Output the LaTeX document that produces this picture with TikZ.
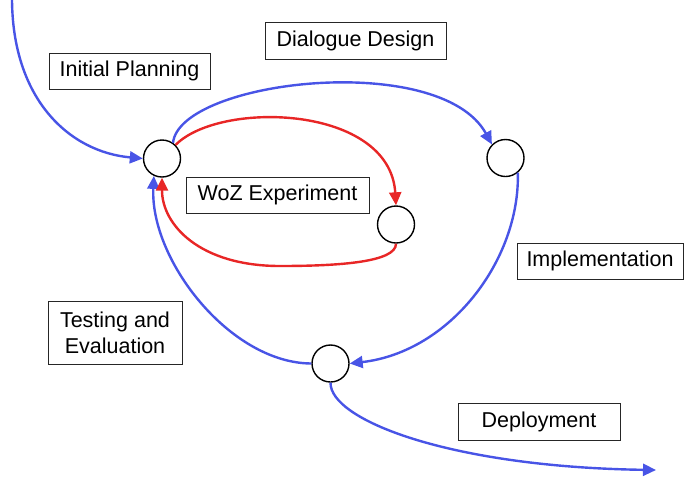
\documentclass[tikz,border=0pt]{standalone}
\usepackage{fontspec}
\setmainfont{Liberation Sans}
\usetikzlibrary{arrows.meta}
\definecolor{flowblue}{RGB}{72,84,230}
\definecolor{flowred}{RGB}{232,38,38}
\begin{document}
\begin{tikzpicture}[x=1pt,y=-1pt,
  stage/.style={circle,draw=black,line width=1.4pt,fill=white,inner sep=0pt,minimum size=37pt},
  phase/.style={draw=black!85,line width=1pt,inner sep=0pt,align=center,
    font=\fontsize{21.5}{26}\selectfont},
  tip/.style={-{Triangle[length=13pt,width=12pt]}},
  blueflow/.style={draw=flowblue,line width=2.4pt,tip,flowblue},
  redflow/.style={draw=flowred,line width=2.4pt,tip,flowred}]
\useasboundingbox (0,0) rectangle (684,477);

% phase labels
\node[phase,minimum width=161pt,minimum height=36pt] (plan) at (129.5,71) {Initial Planning};
\node[phase,minimum width=181pt,minimum height=36.5pt] (design) at (355.5,41) {Dialogue Design};
\node[phase,minimum width=183pt,minimum height=36pt] (woz) at (277.5,195) {WoZ Experiment};
\node[phase,minimum width=166pt,minimum height=36pt] (impl) at (600,261) {Implementation};
\node[phase,minimum width=162pt,minimum height=37pt] (deploy) at (539,421.5) {Deployment};
\node[phase,minimum width=134pt,minimum height=63pt] (test) at (115,332.5) {Testing and\\Evaluation};

% stages
\node[stage] (a) at (162,158.5) {};
\node[stage] (b) at (505.5,158) {};
\node[stage] (c) at (396,224.5) {};
\node[stage] (d) at (330.5,363.5) {};
\coordinate (start) at (12,-2);
\coordinate (exit) at (656,470);

% main cycle
\draw[blueflow] (start) .. controls (12,100) and (70,152) .. (a.west);
\draw[blueflow] (a.55) .. controls (180,80) and (440,50) .. (b.135);
\draw[blueflow] (b.-50) .. controls (520,260) and (450,352) .. (d.east);
\draw[blueflow] (d.west) .. controls (230,363) and (150,260) .. (a.245);
\draw[blueflow] (d.south) .. controls (330,420) and (450,467) .. (exit);

% WoZ loop
\draw[redflow] (a.45) .. controls (220,100) and (390,105) .. (c.north);
\draw[redflow] (c.south) .. controls (396,262) and (340,266) .. (280,266)
  .. controls (200,266) and (162,225) .. (a.south);
\end{tikzpicture}
\end{document}
